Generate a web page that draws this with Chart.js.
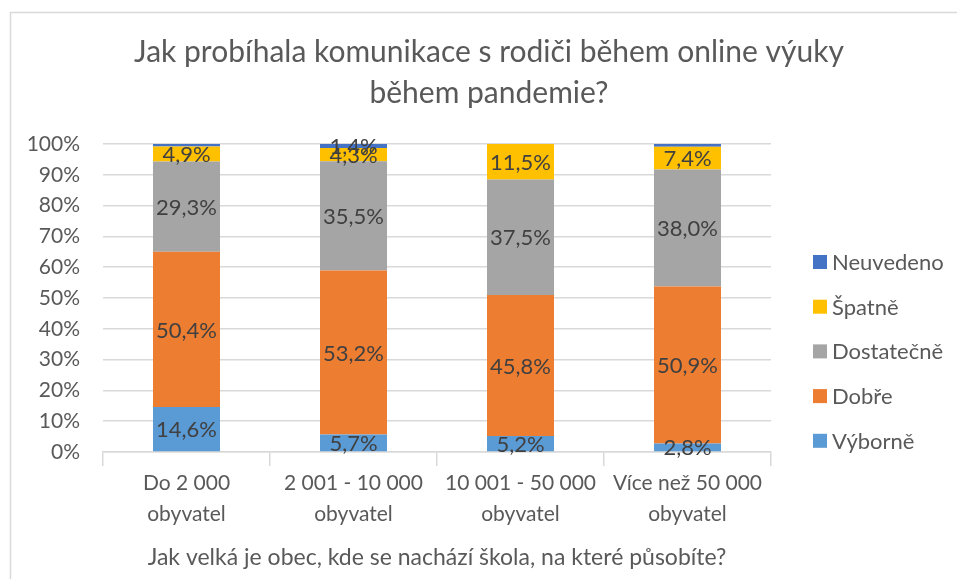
<!DOCTYPE html>
<html lang="cs">
<head>
<meta charset="utf-8">
<script src="https://cdn.jsdelivr.net/npm/chart.js@4.4.1/dist/chart.umd.min.js"></script>
<style>
  html, body { margin: 0; padding: 0; background: #ffffff; }
  #wrap { position: relative; width: 957px; height: 579px; }
</style>
</head>
<body>
<div id="wrap"><canvas id="c" width="957" height="579"></canvas></div>
<script>
// Categories (two-line labels) and answer shares in percent
const categories = [
  ['Do 2 000', 'obyvatel'],
  ['2 001 - 10 000', 'obyvatel'],
  ['10 001 - 50 000', 'obyvatel'],
  ['Více než 50 000', 'obyvatel']
];
const vyborne    = [14.6, 5.7, 5.2, 2.8];
const dobre      = [50.4, 53.2, 45.8, 50.9];
const dostatecne = [29.3, 35.5, 37.5, 38.0];
const spatne     = [4.9, 4.3, 11.5, 7.4];
const neuvedeno  = [0.8, 1.4, 0.0, 0.9];
// which "Neuvedeno" values carry a label
const neuvedenoLabelled = [false, true, false, false];
const yTicks = [0, 10, 20, 30, 40, 50, 60, 70, 80, 90, 100];

const titleLines = ['Jak probíhala komunikace s rodiči během online výuky', 'během pandemie?'];
const axisTitle = 'Jak velká je obec, kde se nachází škola, na které působíte?';

const FONT = 'Lato, Carlito, "Open Sans", sans-serif';
const GRID = '#d9d9d9';
const TEXT = '#595959';

const fmt = v => v.toFixed(1).replace('.', ',') + '%';

// white background, outer frame and title
const framePlugin = {
  id: 'frame',
  beforeDraw(chart) {
    const ctx = chart.ctx;
    ctx.save();
    ctx.fillStyle = '#ffffff';
    ctx.fillRect(0, 0, chart.width, chart.height);
    ctx.strokeStyle = GRID;
    ctx.lineWidth = 1.5;
    ctx.beginPath();
    ctx.moveTo(10.5, chart.height);
    ctx.lineTo(10.5, 12.5);
    ctx.lineTo(chart.width, 12.5);
    ctx.stroke();
    ctx.fillStyle = TEXT;
    ctx.font = '30px ' + FONT;
    ctx.textAlign = 'center';
    ctx.textBaseline = 'alphabetic';
    ctx.fillText(titleLines[0], 489, 62);
    ctx.fillText(titleLines[1], 489, 103);
    ctx.restore();
  }
};

// value labels centred in every segment
const labelPlugin = {
  id: 'segLabels',
  afterDatasetsDraw(chart) {
    const ctx = chart.ctx;
    ctx.save();
    ctx.font = '22px ' + FONT;
    ctx.fillStyle = '#404040';
    ctx.textAlign = 'center';
    ctx.textBaseline = 'middle';
    chart.data.datasets.forEach((ds, di) => {
      const meta = chart.getDatasetMeta(di);
      meta.data.forEach((bar, i) => {
        const v = ds.data[i];
        if (!v) return;
        if (ds.label === 'Neuvedeno' && !neuvedenoLabelled[i]) return;
        const p = bar.getProps(['x', 'y', 'base'], true);
        ctx.fillText(fmt(v), p.x, (p.y + p.base) / 2 + 1);
      });
    });
    ctx.restore();
  }
};

// legend on the right, last series on top
const legendPlugin = {
  id: 'sideLegend',
  afterDraw(chart) {
    const ctx = chart.ctx;
    ctx.save();
    ctx.font = '22px ' + FONT;
    ctx.textAlign = 'left';
    ctx.textBaseline = 'middle';
    const items = chart.data.datasets.slice().reverse();
    items.forEach((ds, k) => {
      const cy = 262 + k * 44.7;
      ctx.fillStyle = ds.backgroundColor;
      ctx.fillRect(813, cy - 7, 14, 14);
      ctx.fillStyle = TEXT;
      ctx.fillText(ds.label, 832, cy + 1);
    });
    ctx.restore();
  }
};

const mk = (label, data, color) => ({
  label, data, backgroundColor: color, borderWidth: 0,
  barPercentage: 1, categoryPercentage: 67 / 167
});

new Chart(document.getElementById('c'), {
  type: 'bar',
  data: {
    labels: categories,
    datasets: [
      mk('Výborně', vyborne, '#5b9bd5'),
      mk('Dobře', dobre, '#ed7d31'),
      mk('Dostatečně', dostatecne, '#a5a5a5'),
      mk('Špatně', spatne, '#ffc000'),
      mk('Neuvedeno', neuvedeno, '#4472c4')
    ]
  },
  options: {
    responsive: false,
    animation: false,
    devicePixelRatio: 1,
    layout: { padding: { top: 144, right: 186, bottom: 0, left: 0 } },
    plugins: {
      legend: { display: false },
      title: { display: false },
      tooltip: { enabled: false }
    },
    scales: {
      x: {
        stacked: true,
        grid: { offset: true, drawOnChartArea: false, drawTicks: true, tickLength: 14, color: GRID, lineWidth: 1.5 },
        border: { display: true, color: GRID, width: 1.5 },
        ticks: { color: TEXT, font: { family: FONT, size: 21, lineHeight: 1.48 }, padding: 2, maxRotation: 0, autoSkip: false },
        title: { display: true, text: axisTitle, color: TEXT, font: { family: FONT, size: 23 }, padding: { top: 5, bottom: 8 } },
        afterFit(scale) { scale.height = 127; }
      },
      y: {
        stacked: true,
        min: 0, max: 100,
        afterBuildTicks(scale) { scale.ticks = yTicks.map(v => ({ value: v })); },
        grid: { drawTicks: false, color: GRID, lineWidth: 1.5 },
        border: { display: false },
        ticks: { color: TEXT, font: { family: FONT, size: 21 }, padding: 23, callback: v => v + '%' },
        afterFit(scale) { scale.width = 103; }
      }
    }
  },
  plugins: [framePlugin, labelPlugin, legendPlugin]
});
</script>
</body>
</html>
